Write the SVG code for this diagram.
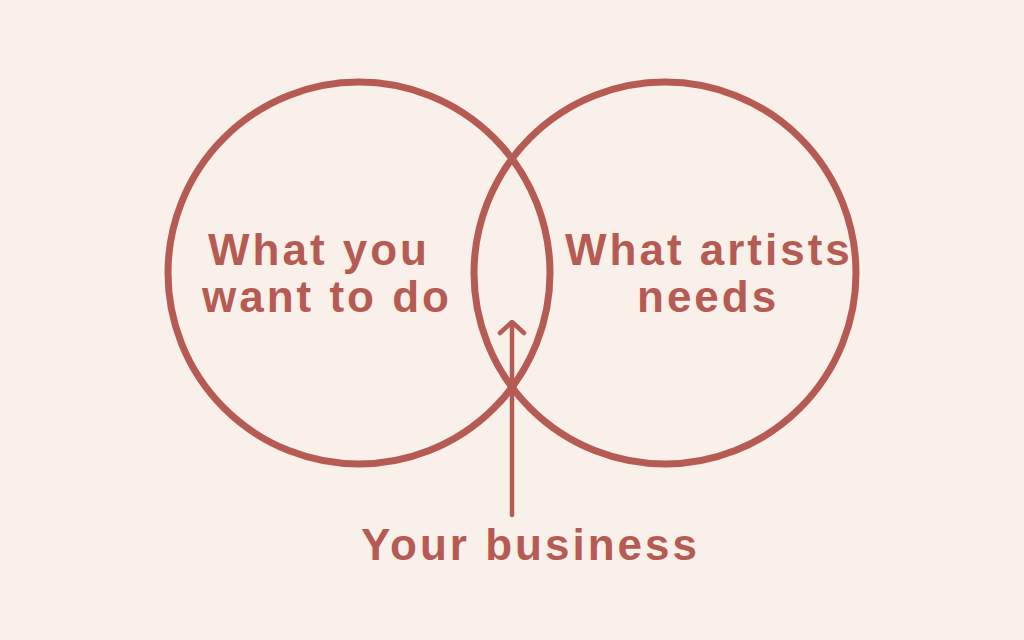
<svg xmlns="http://www.w3.org/2000/svg" width="1024" height="640" viewBox="0 0 1024 640">
<style>
.c{fill:none;stroke:#b65b54;stroke-width:7}
.t{font-family:"Liberation Sans",Arial,sans-serif;font-weight:bold;font-size:44px;fill:#b65b54;letter-spacing:3px}
.a{fill:none;stroke:#b65b54;stroke-width:4.5;stroke-linecap:round;stroke-linejoin:round}
</style>
<rect width="1024" height="640" fill="#f9f1e9"/>
<g id="node-left">
<circle class="c" cx="359" cy="273" r="191"/>
<text class="t" x="208" y="265">What you</text>
<text class="t" x="202" y="312">want to do</text>
</g>
<g id="node-right">
<circle class="c" cx="665" cy="273" r="191"/>
<text class="t" x="565" y="265">What artists</text>
<text class="t" x="637" y="312">needs</text>
</g>
<g id="connectors">
<line class="a" x1="512" y1="515" x2="512" y2="323"/>
<polyline class="a" points="500,333 512,322 524,333"/>
</g>
<g id="node-business">
<text class="t" x="361" y="560">Your business</text>
</g>
</svg>
